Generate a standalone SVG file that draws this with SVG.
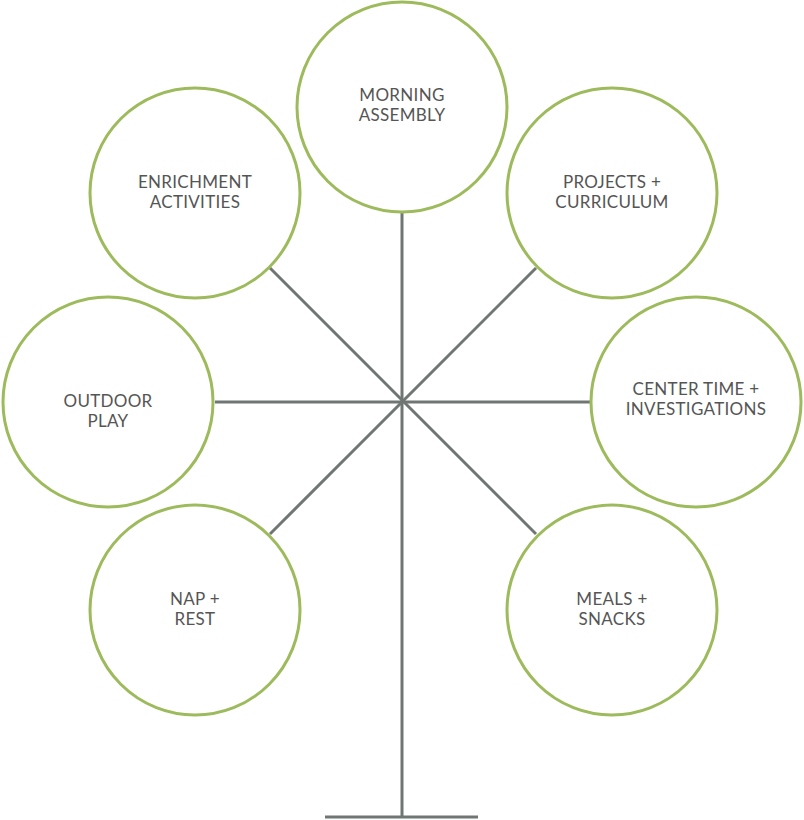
<svg xmlns="http://www.w3.org/2000/svg" width="804" height="820" viewBox="0 0 804 820">
<style>
.c{fill:#fff;stroke:#9dbb5c;stroke-width:3}
.t{font-family:Lato,"Liberation Sans",sans-serif;font-size:17px;fill:#555;text-anchor:middle;letter-spacing:0.3px}
.l{stroke:#6f7673;stroke-width:3;fill:none}
</style>
<rect width="804" height="820" fill="#fff"/>
<g id="connectors">
<line class="l" x1="402" y1="212" x2="402" y2="818"/>
<line class="l" x1="215" y1="402" x2="590" y2="402"/>
<line class="l" x1="270" y1="268" x2="536" y2="534"/>
<line class="l" x1="536" y1="268" x2="270" y2="534"/>
<line class="l" x1="325" y1="817" x2="478" y2="817"/>
</g>
<g id="morning"><circle class="c" cx="402" cy="107" r="105"/><text class="t" x="402" y="101">MORNING</text><text class="t" x="402" y="121">ASSEMBLY</text></g>
<g id="enrichment"><circle class="c" cx="195" cy="193" r="105"/><text class="t" x="195" y="188">ENRICHMENT</text><text class="t" x="195" y="208">ACTIVITIES</text></g>
<g id="projects"><circle class="c" cx="612" cy="193" r="105"/><text class="t" x="612" y="188">PROJECTS +</text><text class="t" x="612" y="208">CURRICULUM</text></g>
<g id="outdoor"><circle class="c" cx="108" cy="402" r="105"/><text class="t" x="108" y="407">OUTDOOR</text><text class="t" x="108" y="427">PLAY</text></g>
<g id="center"><circle class="c" cx="696" cy="402" r="105"/><text class="t" x="696" y="395">CENTER TIME +</text><text class="t" x="696" y="415">INVESTIGATIONS</text></g>
<g id="nap"><circle class="c" cx="195" cy="610" r="105"/><text class="t" x="195" y="605">NAP +</text><text class="t" x="195" y="625">REST</text></g>
<g id="meals"><circle class="c" cx="612" cy="610" r="105"/><text class="t" x="612" y="605">MEALS +</text><text class="t" x="612" y="625">SNACKS</text></g>
</svg>
